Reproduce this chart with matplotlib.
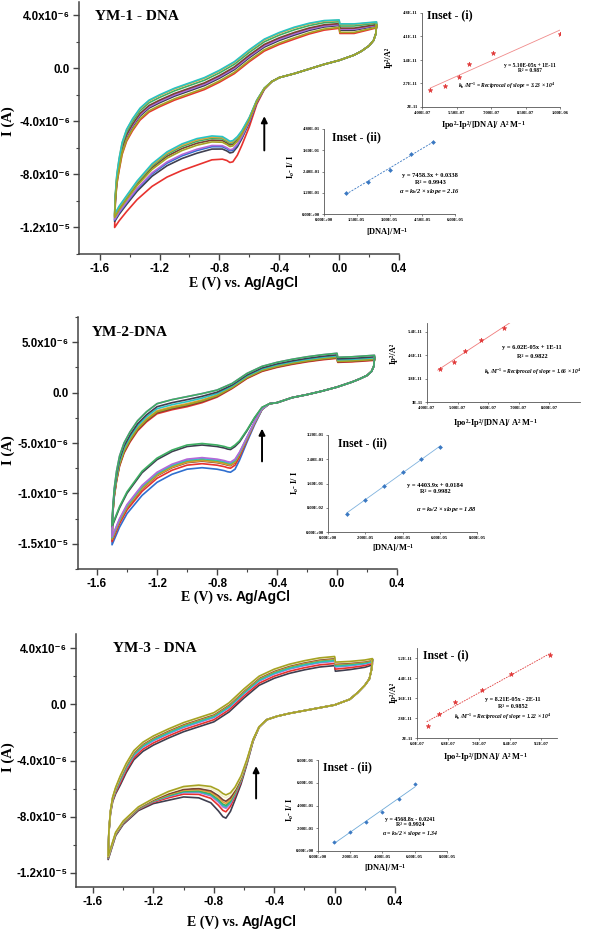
import numpy as np
import matplotlib
matplotlib.use("Agg")
import matplotlib.pyplot as plt
from matplotlib.ticker import MultipleLocator

plt.rcParams["font.family"] = ["Liberation Sans", "DejaVu Sans"]
plt.rcParams["mathtext.fontset"] = "custom"
plt.rcParams["mathtext.rm"] = "Liberation Serif:bold"
plt.rcParams["mathtext.it"] = "Liberation Serif:italic:bold"
plt.rcParams["mathtext.bf"] = "Liberation Serif:bold"
SERIF = ["Liberation Serif", "DejaVu Serif"]
SANS = ["Liberation Sans", "DejaVu Sans"]

W, H = 591, 933

# ---------------- cyclic voltammograms (current in uA) ----------------
main_xticks = [-1.6, -1.2, -0.8, -0.4, 0.0, 0.4]
main_xlabels = ["-1.6", "-1.2", "-0.8", "-0.4", "0.0", "0.4"]

# YM-1
e1_low = [0.25, 0.245, 0.23, 0.2, 0.15, 0.1, 0.0, -0.1, -0.2, -0.3, -0.4, -0.45, -0.5, -0.55,
          -0.6, -0.65, -0.68, -0.71, -0.73, -0.75, -0.78, -0.85, -0.95, -1.05, -1.15, -1.25,
          -1.35, -1.42, -1.47, -1.5]
i1_low = [3.3, 2.6, 2.1, 1.7, 1.3, 1.0, 0.6, 0.3, -0.05, -0.4, -0.7, -1.0, -1.5, -2.4,
          -3.7, -4.7, -5.15, -5.45, -5.5, -5.35, -5.15, -5.1, -5.3, -5.7, -6.3, -7.2,
          -8.5, -9.6, -10.4, -11.0]
w1_low = [0, 0, 0, 0, 0, 0, 0, 0, 0, 0, 0, 0, 0.05, 0.15,
          0.35, 0.55, 0.7, 0.8, 0.8, 0.8, 0.85, 0.9, 1.0, 1.0, 0.95, 0.85,
          0.7, 0.6, 0.55, 0.5]
e1_up = [-1.495, -1.485, -1.47, -1.45, -1.42, -1.38, -1.33, -1.27, -1.2, -1.1, -1.0, -0.9,
         -0.8, -0.7, -0.6, -0.5, -0.4, -0.3, -0.2, -0.1, 0.0, 0.005, 0.1, 0.2, 0.25]
i1_up = [-9.5, -8.0, -6.8, -5.6, -4.6, -3.8, -3.0, -2.4, -2.0, -1.5, -1.1, -0.7,
         -0.15, 0.5, 1.4, 2.2, 2.7, 3.1, 3.4, 3.6, 3.65, 3.35, 3.35, 3.45, 3.5]
w1_up = [0.6, 0.8, 1, 1, 1, 1, 1, 1, 1, 1, 1, 1,
         1, 1, 1, 1, 1, 1, 0.9, 0.8, 0.7, 0.8, 0.8, 0.6, 0.5]
cv1_colors = ["#E8322E", "#3F3F50", "#2F6FD0", "#B468D8", "#7A4232", "#3DAE62", "#E2A23A",
              "#27C4C4", "#A6A323"]
cv1_dlow = [-2.0, -1.1, -0.9, -0.8, -0.35, -0.2, -0.1, 0.0, -0.5]
cv1_dup = [-0.9, -0.6, -0.5, -0.5, -0.4, -0.2, -0.05, 0.0, -0.8]

# YM-2
e2_low = [0.25, 0.245, 0.23, 0.2, 0.15, 0.1, 0.0, -0.1, -0.2, -0.3, -0.35, -0.4, -0.45, -0.5,
          -0.55, -0.6, -0.65, -0.68, -0.71, -0.73, -0.75, -0.8, -0.9, -1.0, -1.1, -1.2,
          -1.3, -1.4, -1.45, -1.5]
i2_low = [3.5, 2.6, 2.1, 1.7, 1.35, 1.05, 0.55, 0.15, -0.2, -0.5, -0.75, -1.0, -1.1, -1.6,
          -2.9, -4.4, -5.9, -6.6, -6.9, -6.85, -6.75, -6.6, -6.45, -6.6, -7.1, -7.9,
          -9.2, -11.1, -12.5, -14.3]
w2_low = [0, 0, 0, 0, 0, 0, 0, 0, 0, 0, 0, 0, 0, 0.1,
          0.3, 0.5, 0.8, 1, 1, 1, 1, 1, 1, 1, 1, 1,
          1, 0.9, 0.85, 0.8]
e2_up = [-1.495, -1.485, -1.47, -1.45, -1.42, -1.38, -1.33, -1.27, -1.2, -1.1, -1.0, -0.9,
         -0.8, -0.7, -0.6, -0.5, -0.4, -0.3, -0.2, -0.1, 0.0, 0.005, 0.1, 0.2, 0.25]
i2_up = [-11.5, -9.5, -7.8, -6.3, -5.0, -3.9, -2.8, -1.9, -1.1, -0.7, -0.4, -0.1,
         0.25, 0.9, 1.9, 2.6, 3.0, 3.3, 3.55, 3.75, 3.9, 3.5, 3.55, 3.65, 3.7]
w2_up = [0.5, 0.8, 1, 1, 1, 1, 1, 1, 1, 1, 1, 0.9,
         0.7, 0.5, 0.5, 0.5, 0.5, 0.5, 0.5, 0.5, 0.5, 0.5, 0.5, 0.5, 0.5]
cv2_colors = ["#2F6FD0", "#E8322E", "#7A4232", "#E2A23A", "#A6A323", "#27C4C4", "#3F3F50",
              "#B468D8", "#3DAE62"]
cv2_dlow = [-1.0, -0.6, -0.35, -0.3, -0.2, -0.1, 1.25, 0.0, 1.4]
cv2_dup = [-0.8, -1.0, -0.9, -0.7, -0.8, -0.5, -0.3, 0.0, 0.0]

# YM-3
e3_low = [0.25, 0.245, 0.23, 0.2, 0.15, 0.1, 0.0, -0.1, -0.2, -0.3, -0.38, -0.45, -0.5, -0.54,
          -0.58, -0.62, -0.66, -0.69, -0.72, -0.74, -0.77, -0.82, -0.9, -1.0, -1.1, -1.2,
          -1.3, -1.4, -1.45, -1.5]
i3_low = [3.2, 2.5, 1.8, 1.35, 0.8, 0.35, -0.05, -0.25, -0.45, -0.65, -0.85, -1.1, -1.6, -2.5,
          -3.9, -5.1, -5.9, -6.3, -6.45, -6.35, -6.1, -5.85, -5.75, -5.85, -6.2, -6.7,
          -7.3, -8.3, -9.1, -10.8]
w3_low = [0, 0, 0, 0, 0, 0, 0, 0, 0, 0, 0, 0, 0.02, 0.08,
          0.2, 0.35, 0.55, 0.8, 1.0, 1.0, 0.9, 0.7, 0.55, 0.45, 0.38, 0.22,
          0.16, 0.15, 0.15, 0.15]
e3_up = [-1.495, -1.485, -1.47, -1.45, -1.42, -1.38, -1.33, -1.27, -1.2, -1.1, -1.0, -0.9,
         -0.8, -0.7, -0.6, -0.5, -0.4, -0.3, -0.2, -0.1, 0.0, 0.005, 0.1, 0.2, 0.25]
i3_up = [-9.0, -7.6, -6.6, -5.9, -5.1, -4.2, -3.3, -2.7, -2.25, -1.75, -1.3, -0.95,
         -0.6, 0.1, 1.1, 2.0, 2.5, 2.85, 3.1, 3.3, 3.4, 3.0, 3.05, 3.15, 3.25]
w3_up = [0.2, 0.3, 0.5, 0.7, 1, 1, 1, 1, 1, 1, 1, 1,
         1, 1, 1, 1, 1, 1, 1, 1, 1, 1, 0.9, 0.8, 0.7]
cv3_colors = ["#3F3F50", "#E8322E", "#B468D8", "#27C4C4", "#3DAE62", "#E2A23A", "#7A4232",
              "#F4F0C8", "#A6A323"]
cv3_dlow = [-1.65, -1.2, -0.95, -0.85, -0.75, -0.6, -0.45, -0.2, 0.0]
cv3_dup = [-0.65, -0.5, -0.35, -0.3, -0.2, -0.15, -0.1, -0.05, 0.0]

# ---------------- insets ----------------
in1a_x = [4.35e-7, 4.98e-7, 5.60e-7, 6.06e-7, 7.10e-7, 1.00e-6]
in1a_y = [2.50e-11, 2.62e-11, 2.88e-11, 3.27e-11, 3.60e-11, 4.17e-11]
in1b_x = [1e-5, 2e-5, 3e-5, 4e-5, 5e-5]
in1b_y = [0.118, 0.180, 0.248, 0.341, 0.407]
in2a_x = [4.41e-7, 4.87e-7, 5.23e-7, 5.76e-7, 6.52e-7]
in2a_y = [4.14e-11, 4.37e-11, 4.74e-11, 5.11e-11, 5.54e-11]
in2b_x = [1e-5, 2e-5, 3e-5, 4e-5, 5e-5, 6e-5]
in2b_y = [0.060, 0.107, 0.152, 0.197, 0.241, 0.279]
in3a_x = [6.27e-7, 6.57e-7, 6.98e-7, 7.66e-7, 8.42e-7, 9.43e-7]
in3a_y = [2.47e-11, 2.97e-11, 3.44e-11, 3.91e-11, 4.55e-11, 5.31e-11]
in3b_x = [1e-5, 2e-5, 3e-5, 4e-5, 5e-5, 6e-5]
in3b_y = [0.079, 0.168, 0.256, 0.344, 0.453, 0.585]


def fx(px):
    return px / W


def fy(py):
    return 1 - py / H


def rect(l, t, r, b):
    return [l / W, 1 - b / H, (r - l) / W, (b - t) / H]


def draw_cv(ax, e_low, i_low, w_low, e_up, i_up, w_up, colors, d_low, d_up):
    for c, dl, du in zip(colors, d_low, d_up):
        lo = np.asarray(i_low) + dl * np.asarray(w_low)
        up = np.asarray(i_up) + du * np.asarray(w_up)
        e = np.concatenate([e_low, e_up, e_low[:1]])
        cur = np.concatenate([lo, up, lo[:1]])
        ax.plot(e, cur, color=c, lw=1.2, solid_joinstyle="round", solid_capstyle="round")


def setup_main(ax, xlim, ylim, yticks, ylabels, yminor):
    ax.set_xlim(xlim)
    ax.set_ylim(ylim)
    ax.set_xticks(main_xticks)
    ax.set_xticklabels(main_xlabels, fontweight="bold", family=SANS)
    ax.xaxis.set_minor_locator(MultipleLocator(0.2))
    ax.set_yticks(yticks)
    ax.set_yticklabels(ylabels, fontweight="bold", family=SANS)
    ax.yaxis.set_minor_locator(MultipleLocator(yminor))
    for s in ("top", "right"):
        ax.spines[s].set_visible(False)
    for s in ("left", "bottom"):
        ax.spines[s].set_linewidth(1.1)
        ax.spines[s].set_color("#444444")
    ax.tick_params(which="major", direction="out", length=4, width=1.0, labelsize=8.3,
                   color="#444444", pad=2.5)
    ax.tick_params(which="minor", direction="out", length=2.5, width=0.8, color="#444444")
    ax.patch.set_alpha(0)


def main_labels(title, title_xy, ylab_y, xlab_split, xlab_y):
    fig.text(fx(title_xy[0]), fy(title_xy[1]), title, family=SERIF, weight="bold",
             fontsize=11, ha="left", va="center")
    fig.text(fx(8), fy(ylab_y), "I (A)", family=SERIF, weight="bold",
             fontsize=10.5, rotation=90, ha="center", va="center")
    fig.text(fx(xlab_split), fy(xlab_y), "E (V) vs. ", family=SERIF, weight="bold",
             fontsize=10, ha="right", va="center")
    fig.text(fx(xlab_split), fy(xlab_y), "Ag/AgCl", family=SANS, weight="bold",
             fontsize=10, ha="left", va="center")


def inset(box, xs, ys, xlim, ylim, xt, xtl, yt, ytl, marker, mcolor, ms, tcolor, tls,
          tspan):
    ax = fig.add_axes(rect(*box))
    ax.patch.set_alpha(0)
    k, b = np.polyfit(xs, ys, 1)
    tx = np.asarray(tspan)
    ax.plot(tx, k * tx + b, color=tcolor, lw=0.6, ls=tls)
    ax.plot(xs, ys, ls="none", marker=marker, color=mcolor, ms=ms, mew=0.4)
    ax.set_xlim(xlim)
    ax.set_ylim(ylim)
    ax.set_xticks(xt)
    ax.set_xticklabels(xtl, family=SERIF, fontsize=3.3, weight="bold")
    ax.set_yticks(yt)
    ax.set_yticklabels(ytl, family=SERIF, fontsize=3.3, weight="bold")
    for s in ("top", "right"):
        ax.spines[s].set_visible(False)
    for s in ("left", "bottom"):
        ax.spines[s].set_linewidth(0.6)
        ax.spines[s].set_color("#555555")
    ax.tick_params(direction="out", length=1.5, width=0.5, pad=1.5, color="#555555")
    return ax


def ftext(px, py, s, size, **kw):
    kw.setdefault("family", SERIF)
    kw.setdefault("weight", "bold")
    fig.text(fx(px), fy(py), s, fontsize=size, **kw)


fig = plt.figure(figsize=(W / 100, H / 100), dpi=100)

# ---------------- panel 1 ----------------
ax1 = fig.add_axes(rect(79, 2, 399, 254))
draw_cv(ax1, e1_low, i1_low, w1_low, e1_up, i1_up, w1_up, cv1_colors, cv1_dlow, cv1_dup)
setup_main(ax1, (-1.738, 0.4), (-14, 5), [4, 0, -4, -8, -12],
           ["4.0x10⁻⁶", "0.0", "-4.0x10⁻⁶", "-8.0x10⁻⁶", "-1.2x10⁻⁵"], 2)
ax1.annotate("", xy=(-0.5, -3.4), xytext=(-0.5, -6.4),
             arrowprops=dict(arrowstyle="-|>", color="black", lw=1.4, mutation_scale=9))
main_labels("YM-1 - DNA", (95, 17), 121, 244, 283)

inset((422, 13, 560, 107), in1a_x, in1a_y, (4e-7, 1.0e-6), (2e-11, 4.8e-11),
      [4e-7, 5.5e-7, 7e-7, 8.5e-7, 1e-6], ["4.00E-07", "5.50E-07", "7.00E-07", "8.50E-07", "1.00E-06"],
      [2e-11, 2.7e-11, 3.4e-11, 4.1e-11, 4.8e-11], ["2E-11", "2.7E-11", "3.4E-11", "4.1E-11", "4.8E-11"],
      "*", "#E03535", 3.5, "#F08A8A", "-", [4.35e-7, 1.0e-6])
ftext(427, 15, "Inset - (i)", 8.5, ha="left", va="center")
ftext(389, 57, "Ip²/A²", 6, rotation=90, ha="center", va="center")
ftext(483, 125, "Ipo²-Ip²/[DNA]/ A² M$^{-1}$", 6, ha="center", va="center")
ftext(530, 65, "y = 5.10E-05x + 1E-11", 4, ha="center", va="center")
ftext(530, 71, "R² = 0.987", 4, ha="center", va="center")
ftext(507, 86, "$k_b$ /M$^{-1}$ = Reciprocal of slope = 3.23 × 10$^4$", 4, ha="center",
      va="center", style="italic")

inset((324, 129, 455, 214), in1b_x, in1b_y, (0, 6e-5), (0, 0.48),
      [0, 1.5e-5, 3e-5, 4.5e-5, 6e-5], ["0.00E+00", "1.50E-05", "3.00E-05", "4.50E-05", "6.00E-05"],
      [0, 0.12, 0.24, 0.36, 0.48], ["0.00E+00", "1.20E-01", "2.40E-01", "3.60E-01", "4.80E-01"],
      "D", "#3A78C2", 2.0, "#3A78C2", (0, (2.5, 1.5)), [1e-5, 5e-5])
ftext(332, 137, "Inset - (ii)", 8.5, ha="left", va="center")
ftext(291, 167, "I$_o$- I/ I", 6, rotation=90, ha="center", va="center")
ftext(430, 175, "y = 7458.3x + 0.0338", 4.6, ha="center", va="center")
ftext(430, 182, "R² = 0.9943", 4.6, ha="center", va="center")
ftext(430, 191, "α = $k_b$/2 × slope = 2.16", 4.6, ha="center", va="center", style="italic")
ftext(387, 232, "[DNA]/M$^{-1}$", 6, ha="center", va="center")

# ---------------- panel 2 ----------------
ax2 = fig.add_axes(rect(78, 317, 397, 569))
draw_cv(ax2, e2_low, i2_low, w2_low, e2_up, i2_up, w2_up, cv2_colors, cv2_dlow, cv2_dup)
setup_main(ax2, (-1.727, 0.4), (-17.5, 7.5), [5, 0, -5, -10, -15],
           ["5.0x10⁻⁶", "0.0", "-5.0x10⁻⁶", "-1.0x10⁻⁵", "-1.5x10⁻⁵"], 2.5)
ax2.annotate("", xy=(-0.5, -3.3), xytext=(-0.5, -7.1),
             arrowprops=dict(arrowstyle="-|>", color="black", lw=1.4, mutation_scale=9))
main_labels("YM-2-DNA", (92, 333), 450, 236, 597)

inset((427, 323, 580, 402), in2a_x, in2a_y, (4e-7, 9e-7), (3e-11, 5.7e-11),
      [4e-7, 5e-7, 6e-7, 7e-7, 8e-7], ["4.00E-07", "5.00E-07", "6.00E-07", "7.00E-07", "8.00E-07"],
      [3e-11, 3.8e-11, 4.6e-11, 5.4e-11], ["3E-11", "3.8E-11", "4.6E-11", "5.4E-11"],
      "*", "#E03535", 3.5, "#F07A7A", "-", [4.35e-7, 7.0e-7])
ftext(394, 353, "Ip²/A²", 6, rotation=90, ha="center", va="center")
ftext(495, 423, "Ipo²-Ip²/[DNA]/ A² M$^{-1}$", 6, ha="center", va="center")
ftext(532, 348, "y = 6.02E-05x + 1E-11", 4.6, ha="center", va="center")
ftext(532, 357, "R² = 0.9822", 4.6, ha="center", va="center")
ftext(533, 372, "$k_b$ /M$^{-1}$ = Reciprocal of slope = 1.66 × 10$^4$", 4, ha="center",
      va="center", style="italic")

inset((328, 435, 477, 532), in2b_x, in2b_y, (0, 8e-5), (0, 0.32),
      [0, 2e-5, 4e-5, 6e-5, 8e-5], ["0.00E+00", "2.00E-05", "4.00E-05", "6.00E-05", "8.00E-05"],
      [0, 0.08, 0.16, 0.24, 0.32], ["0.00E+00", "8.00E-02", "1.60E-01", "2.40E-01", "3.20E-01"],
      "D", "#3A78C2", 2.0, "#7FB2DE", "-", [1e-5, 6e-5])
ftext(338, 443, "Inset - (ii)", 8.5, ha="left", va="center")
ftext(295, 483, "I$_o$- I/ I", 6, rotation=90, ha="center", va="center")
ftext(435, 486, "y = 4403.9x + 0.0184", 4.6, ha="center", va="center")
ftext(435, 492, "R² = 0.9982", 4.6, ha="center", va="center")
ftext(447, 509, "α = $k_b$/2 × slope = 1.88", 4.6, ha="center", va="center", style="italic")
ftext(393, 548, "[DNA]/M$^{-1}$", 6, ha="center", va="center")

# ---------------- panel 3 ----------------
ax3 = fig.add_axes(rect(76, 634, 395, 887))
draw_cv(ax3, e3_low, i3_low, w3_low, e3_up, i3_up, w3_up, cv3_colors, cv3_dlow, cv3_dup)
setup_main(ax3, (-1.713, 0.4), (-13, 5), [4, 0, -4, -8, -12],
           ["4.0x10⁻⁶", "0.0", "-4.0x10⁻⁶", "-8.0x10⁻⁶", "-1.2x10⁻⁵"], 2)
ax3.annotate("", xy=(-0.52, -4.2), xytext=(-0.52, -6.9),
             arrowprops=dict(arrowstyle="-|>", color="black", lw=1.4, mutation_scale=9))
main_labels("YM-3 - DNA", (113, 648), 757, 242, 922)

inset((417, 648, 557, 738), in3a_x, in3a_y, (6e-7, 9.6e-7), (2e-11, 5.6e-11),
      [6e-7, 6.8e-7, 7.6e-7, 8.4e-7, 9.2e-7], ["6.0E-07", "6.8E-07", "7.6E-07", "8.4E-07", "9.2E-07"],
      [2e-11, 2.8e-11, 3.6e-11, 4.4e-11, 5.2e-11], ["2E-11", "2.8E-11", "3.6E-11", "4.4E-11", "5.2E-11"],
      "*", "#E03535", 3.5, "#E03A3A", (0, (2, 1.2)), [6.25e-7, 9.45e-7])
ftext(423, 655, "Inset - (i)", 8.5, ha="left", va="center")
ftext(394, 692, "Ip²/A²", 6, rotation=90, ha="center", va="center")
ftext(485, 757, "Ipo²-Ip²/[DNA]/ A² M$^{-1}$", 6, ha="center", va="center")
ftext(513, 700, "y = 8.21E-05x - 2E-11", 4.4, ha="center", va="center")
ftext(513, 707, "R² = 0.9852", 4.4, ha="center", va="center")
ftext(503, 717, "$k_b$ /M$^{-1}$ = Reciprocal of slope = 1.22 × 10$^4$", 4, ha="center",
      va="center", style="italic")

inset((318, 760, 447, 851), in3b_x, in3b_y, (0, 8e-5), (0, 0.8),
      [0, 2e-5, 4e-5, 6e-5, 8e-5], ["0.00E+00", "2.00E-05", "4.00E-05", "6.00E-05", "8.00E-05"],
      [0, 0.2, 0.4, 0.6, 0.8], ["0.00E+00", "2.00E-01", "4.00E-01", "6.00E-01", "8.00E-01"],
      "D", "#3A78C2", 1.8, "#6FAAD8", "-", [1e-5, 6e-5])
ftext(323, 767, "Inset - (ii)", 8.5, ha="left", va="center")
ftext(290, 810, "I$_o$- I/ I", 6, rotation=90, ha="center", va="center")
ftext(410, 819, "y = 4568.8x - 0.0241", 4.2, ha="center", va="center")
ftext(410, 825, "R² = 0.9924", 4.2, ha="center", va="center")
ftext(410, 833, "α = $k_b$/2 × slope = 1.34", 4.2, ha="center", va="center", style="italic")
ftext(385, 868, "[DNA]/M$^{-1}$", 6, ha="center", va="center")

fig.savefig("out.png", dpi=100)
